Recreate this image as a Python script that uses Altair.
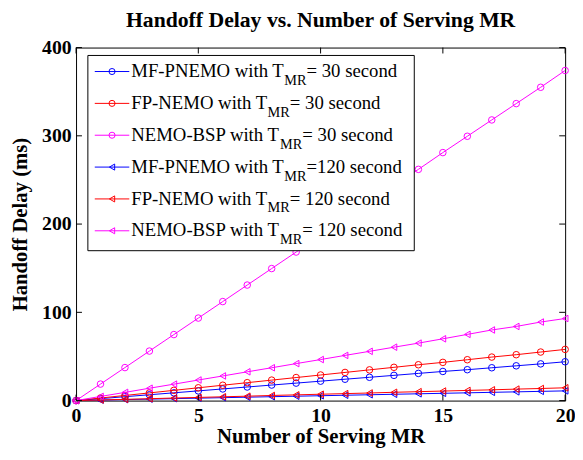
import altair as alt
import pandas as pd

# ---------------- data ----------------
x_vals = list(range(21))
series_names = [
    "MF-PNEMO, T_MR=30", "FP-NEMO, T_MR=30", "NEMO-BSP, T_MR=30",
    "MF-PNEMO, T_MR=120", "FP-NEMO, T_MR=120", "NEMO-BSP, T_MR=120",
]
mf_pnemo_30 = [0, 2.2, 4.4, 6.6, 8.8, 11.0, 13.2, 15.4, 17.6, 19.8, 22.0,
               24.2, 26.4, 28.6, 30.8, 33.0, 35.0, 37.2, 39.4, 41.6, 44.0]
fp_nemo_30 = [0, 2.9, 5.8, 8.7, 11.6, 14.5, 17.4, 20.3, 23.2, 26.1, 29.0,
              31.9, 34.8, 37.7, 40.6, 43.3, 46.3, 49.3, 52.0, 55.0, 58.0]
nemo_bsp_30 = [0, 18.7, 37.4, 56.1, 74.8, 93.5, 112.2, 130.9, 149.6, 168.3, 187.0,
               205.7, 224.4, 243.1, 262.0, 281.0, 299.5, 318.0, 336.5, 355.0, 374.0]
mf_pnemo_120 = [0, 0.55, 1.1, 1.65, 2.2, 2.75, 3.3, 3.85, 4.4, 4.95, 5.5,
                6.05, 6.6, 7.15, 7.7, 8.25, 8.8, 9.35, 9.9, 10.45, 11.0]
fp_nemo_120 = [0, 0.7, 1.4, 2.1, 2.9, 3.6, 4.3, 5.0, 5.8, 6.5, 7.2,
               7.9, 8.6, 9.4, 10.1, 10.8, 11.5, 12.2, 13.0, 13.7, 14.5]
nemo_bsp_120 = [0, 4.7, 9.3, 14.0, 18.6, 23.3, 27.9, 32.6, 37.2, 41.9, 46.5,
                51.2, 55.8, 60.5, 65.1, 70.0, 75.0, 80.0, 84.0, 89.0, 93.0]
series_values = [mf_pnemo_30, fp_nemo_30, nemo_bsp_30, mf_pnemo_120, fp_nemo_120, nemo_bsp_120]

x_ticks = [0, 5, 10, 15, 20]
y_ticks = [0, 100, 200, 300, 400]

chart_title = "Handoff Delay vs. Number of Serving MR"
legend_prefix = ["MF-PNEMO with T", "FP-NEMO with T", "NEMO-BSP with T",
                 "MF-PNEMO with T", "FP-NEMO with T", "NEMO-BSP with T"]
legend_sub = "MR"
legend_suffix = ["= 30 second", "= 30 second", "= 30 second",
                 "=120 second", "= 120 second", "= 120 second"]

colors = ["#0000ff", "#ff0000", "#ff00ff", "#0000ff", "#ff0000", "#ff00ff"]
shapes = ["circle", "circle", "circle", "triangle-left", "triangle-left", "triangle-left"]

# ---------------- layout ----------------
W, H = 496, 358
FONT = "Liberation Serif"
LEG_FS, SUB_FS = 19, 14.5

# Times / Liberation Serif advance widths (1/1000 em)
tw = {" ": 250, "-": 333, "=": 564, "B": 667, "E": 611, "F": 556, "M": 889, "N": 722,
      "O": 722, "P": 556, "R": 667, "S": 556, "T": 611, "c": 444, "d": 500, "e": 444,
      "h": 500, "i": 278, "n": 500, "o": 500, "s": 389, "t": 278, "w": 722}
for d in "0123456789":
    tw[d] = 500


def text_w(s, size):
    return sum(tw.get(c, 500) for c in s) * size / 1000.0


rows = []
for name, vals in zip(series_names, series_values):
    for xv, yv in zip(x_vals, vals):
        rows.append({"x": xv, "y": yv, "series": name})
df = pd.DataFrame(rows)

x_enc = alt.X("x:Q", scale=alt.Scale(domain=[0, 20], nice=False, zero=False),
              axis=alt.Axis(values=x_ticks, title="Number of Serving MR", grid=False,
                            ticks=False, domain=False, labelFlush=False, labelOverlap=False,
                            labelPadding=5, titleX=W / 2, titleY=43,
                            titleBaseline="alphabetic"))
y_enc = alt.Y("y:Q", scale=alt.Scale(domain=[0, 400], nice=False),
              axis=alt.Axis(values=y_ticks, title="Handoff Delay (ms)", grid=False,
                            ticks=False, domain=False, labelFlush=False, labelOverlap=False,
                            labelPadding=5, titleX=-50, titleY=H / 2, titleAngle=270,
                            titleBaseline="alphabetic"))

layers = []
for name, col, shp in zip(series_names, colors, shapes):
    sub = alt.Chart(df).transform_filter(alt.datum.series == name)
    layers.append(sub.mark_line(color=col, strokeWidth=1).encode(x=x_enc, y=y_enc))
    layers.append(sub.mark_point(color=col, shape=shp, size=44, filled=False,
                                 strokeWidth=1, opacity=1).encode(x=x_enc, y=y_enc))

# inward ticks on all four sides
tx = pd.DataFrame({"x": x_ticks})
ty = pd.DataFrame({"y": y_ticks})
TL = 6
layers.append(alt.Chart(tx).mark_rule(color="black", strokeWidth=1).encode(
    x=x_enc, y=alt.value(H), y2=alt.value(H - TL)))
layers.append(alt.Chart(tx).mark_rule(color="black", strokeWidth=1).encode(
    x=x_enc, y=alt.value(0), y2=alt.value(TL)))
layers.append(alt.Chart(ty).mark_rule(color="black", strokeWidth=1).encode(
    y=y_enc, x=alt.value(0), x2=alt.value(TL)))
layers.append(alt.Chart(ty).mark_rule(color="black", strokeWidth=1).encode(
    y=y_enc, x=alt.value(W), x2=alt.value(W - TL)))

one = pd.DataFrame({"k": [0]})

# chart title (drawn as a text mark above the plot)
layers.append(alt.Chart(one).mark_text(align="center", baseline="alphabetic", font=FONT,
                                       fontSize=22, fontWeight="bold", color="black").encode(
    x=alt.value(W / 2), y=alt.value(-21), text=alt.value(chart_title)))

# legend box
layers.append(alt.Chart(one).mark_rect(fill="white", stroke="black", strokeWidth=1).encode(
    x=alt.value(12), x2=alt.value(343), y=alt.value(8), y2=alt.value(206)))

for i in range(len(series_names)):
    base = 30 + 32.3 * i
    ly = base - 5.7
    col, shp = colors[i], shapes[i]
    layers.append(alt.Chart(one).mark_rule(color=col, strokeWidth=1).encode(
        x=alt.value(19), x2=alt.value(54), y=alt.value(ly)))
    layers.append(alt.Chart(one).mark_point(color=col, shape=shp, size=38, filled=False,
                                            strokeWidth=1, opacity=1).encode(
        x=alt.value(36.5), y=alt.value(ly)))
    x0 = 56
    layers.append(alt.Chart(one).mark_text(align="left", baseline="alphabetic", font=FONT,
                                           fontSize=LEG_FS, color="black").encode(
        x=alt.value(x0), y=alt.value(base), text=alt.value(legend_prefix[i])))
    x1 = x0 + text_w(legend_prefix[i], LEG_FS)
    layers.append(alt.Chart(one).mark_text(align="left", baseline="alphabetic", font=FONT,
                                           fontSize=SUB_FS, color="black").encode(
        x=alt.value(x1), y=alt.value(base + 8), text=alt.value(legend_sub)))
    x2 = x1 + text_w(legend_sub, SUB_FS)
    layers.append(alt.Chart(one).mark_text(align="left", baseline="alphabetic", font=FONT,
                                           fontSize=LEG_FS, color="black").encode(
        x=alt.value(x2), y=alt.value(base), text=alt.value(legend_suffix[i])))

chart = alt.layer(*layers).properties(
    width=W, height=H,
    padding={"left": 69, "top": 37, "right": 10, "bottom": 48},
    autosize=alt.AutoSizeParams(type="none"),
    background="white",
).configure_view(stroke="black", strokeWidth=1).configure_axis(
    labelFont=FONT, labelFontSize=20, labelFontWeight="bold", labelColor="black",
    titleFont=FONT, titleFontSize=21, titleFontWeight="bold", titleColor="black",
)

chart.save("out.html", embed_options={"renderer": "svg", "actions": False})
